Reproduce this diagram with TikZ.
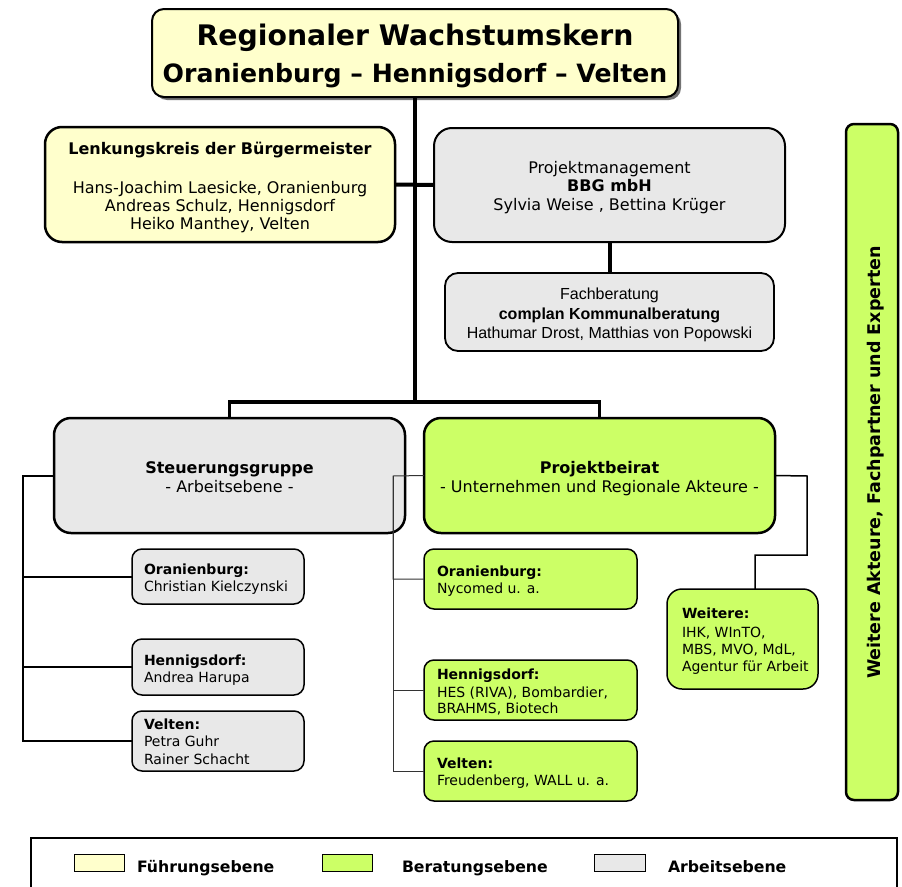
\documentclass[tikz,border=0pt]{standalone}
\usepackage{fontspec}
\setmainfont{DejaVu Sans}
\newfontfamily\arialf{Liberation Sans}
\definecolor{fy}{HTML}{FFFFCC}
\definecolor{fg}{HTML}{CCFF66}
\definecolor{fgr}{HTML}{E8E8E8}
\begin{document}
\begin{tikzpicture}[x=1pt,y=-1pt,
  box/.style={draw=black, inner sep=0pt, outer sep=0pt},
  bigbox/.style={box, line width=2.5pt, rounded corners=17pt},
  smallbox/.style={box, line width=1.5pt, rounded corners=10pt},
  txt/.style={inner sep=0pt, outer sep=0pt, anchor=base},
  ltxt/.style={inner sep=0pt, outer sep=0pt, anchor=base west},
  fA/.style={font=\fontsize{16}{18}\selectfont},
  fAb/.style={font=\fontsize{16}{18}\selectfont\bfseries},
  fS/.style={font=\fontsize{14}{17}\selectfont},
  fSb/.style={font=\fontsize{14}{17}\selectfont\bfseries},
  fF/.style={font=\arialf\fontsize{16}{18}\selectfont},
  fFb/.style={font=\arialf\fontsize{16}{18}\selectfont\bfseries},
  thick connector/.style={line width=4pt},
  mid connector/.style={line width=2pt},
  thin connector/.style={line width=1pt}]
\useasboundingbox (0,0) rectangle (902,886);

% ---- title with shadow
\fill[black!55, rounded corners=12pt] (155,12) rectangle (681,100);
\node[box, fill=fy, line width=2pt, rounded corners=12pt, minimum width=526pt, minimum height=88pt] (title) at (415,53) {};
\node[txt, font=\fontsize{28.3}{30}\selectfont\bfseries] (t1) at (415,45) {Regionaler Wachstumskern};
\node[txt, font=\fontsize{25.2}{28}\selectfont\bfseries] (t2) at (415,82) {Oranienburg – Hennigsdorf – Velten};

% ---- upper boxes
\node[bigbox, fill=fy, minimum width=350pt, minimum height=115pt] (lenk) at (220,184.5) {};
\node[box, fill=fgr, line width=2pt, rounded corners=18pt, minimum width=351pt, minimum height=114pt] (pm) at (609.5,185) {};
\node[box, fill=fgr, line width=1.8pt, rounded corners=13pt, minimum width=329pt, minimum height=78pt] (fach) at (609.5,312) {};

% ---- connectors (upper)
\coordinate (bar) at (415,402);
\draw[thick connector] (title.south) -- (bar);
\draw[thick connector] (lenk.east) -- (pm.west);
\draw[thick connector] (pm.south) -- (fach.north);

% ---- texts upper
\node[txt, fAb] (l1) at (220,154) {Lenkungskreis der Bürgermeister};
\node[txt, fA] (l2) at (220,193) {Hans-Joachim Laesicke, Oranienburg};
\node[txt, fA] (l3) at (220,211) {Andreas Schulz, Hennigsdorf};
\node[txt, fA] (l4) at (220,229) {Heiko Manthey, Velten};

\node[txt, fA] (p1) at (609.5,173) {Projektmanagement};
\node[txt, fAb] (p2) at (609.5,191) {BBG mbH};
\node[txt, fA] (p3) at (609.5,210) {Sylvia Weise , Bettina Krüger};

\node[txt, fF] (f1) at (609.5,299) {Fachberatung};
\node[txt, fFb] (f2) at (609.5,319) {complan Kommunalberatung};
\node[txt, fF] (f3) at (609.5,338) {Hathumar Drost, Matthias von Popowski};

% ---- right tall box
\node[box, fill=fg, line width=2.5pt, rounded corners=8pt, minimum width=52pt, minimum height=676pt] (weit) at (872,462) {};
\node[txt, rotate=90, font=\fontsize{17.5}{20}\selectfont\bfseries] (wt) at (880,462.5) {Weitere Akteure, Fachpartner und Experten};

% ---- middle boxes
\node[bigbox, fill=fgr, minimum width=351pt, minimum height=115pt] (steu) at (229.5,475.5) {};
\node[bigbox, fill=fg, minimum width=351pt, minimum height=115pt] (beir) at (599.5,475.5) {};
\draw[thick connector, line width=3.5pt] (steu.north) -- ++(0,-16) -| (beir.north);
\node[txt, fAb] (s1) at (229.5,473) {Steuerungsgruppe};
\node[txt, fA] (s2) at (229.5,492) {- Arbeitsebene -};
\node[txt, fAb] (b1) at (599.5,473) {Projektbeirat};
\node[txt, fA] (b2) at (599.5,492) {- Unternehmen und Regionale Akteure -};

% ---- left small boxes
\node[smallbox, fill=fgr, minimum width=172pt, minimum height=55pt] (so) at (218,576.5) {};
\node[smallbox, fill=fgr, minimum width=172pt, minimum height=56pt] (sh) at (218,667) {};
\node[smallbox, fill=fgr, minimum width=172pt, minimum height=60pt] (sv) at (218,741) {};
\node[ltxt, fSb] (so1) at (144,574) {Oranienburg:};
\node[ltxt, fS] (so2) at (144,591) {Christian Kielczynski};
\node[ltxt, fSb] (sh1) at (144,665) {Hennigsdorf:};
\node[ltxt, fS] (sh2) at (144,682) {Andrea Harupa};
\node[ltxt, fSb] (sv1) at (144,729) {Velten:};
\node[ltxt, fS] (sv2) at (144,746) {Petra Guhr};
\node[ltxt, fS] (sv3) at (144,764) {Rainer Schacht};

% ---- right small boxes
\node[smallbox, fill=fg, minimum width=213pt, minimum height=60pt] (bo) at (530.5,579) {};
\node[smallbox, fill=fg, minimum width=213pt, minimum height=60pt] (bh) at (530.5,690) {};
\node[smallbox, fill=fg, minimum width=213pt, minimum height=60pt] (bv) at (530.5,771) {};
\node[ltxt, fSb] (bo1) at (437,576) {Oranienburg:};
\node[ltxt, fS] (bo2) at (437,593) {Nycomed u. a.};
\node[ltxt, fSb] (bh1) at (437,679) {Hennigsdorf:};
\node[ltxt, fS] (bh2) at (437,697) {HES (RIVA), Bombardier,};
\node[ltxt, fS] (bh3) at (437,713) {BRAHMS, Biotech};
\node[ltxt, fSb] (bv1) at (437,768) {Velten:};
\node[ltxt, fS] (bv2) at (437,785) {Freudenberg, WALL u. a.};

% ---- Weitere box
\node[box, fill=fg, line width=1.5pt, rounded corners=15pt, minimum width=151pt, minimum height=100pt] (we) at (742.5,639) {};
\node[ltxt, fSb] (we1) at (682,618) {Weitere:};
\node[ltxt, fS] (we2) at (682,637) {IHK, WInTO,};
\node[ltxt, fS] (we3) at (682,654) {MBS, MVO, MdL,};
\node[ltxt, fS] (we4) at (682,671) {Agentur für Arbeit};

% ---- side connectors
\coordinate (sl) at (23,475.5);
\draw[mid connector] (steu.west) -- (sl) |- (so.west);
\draw[mid connector] (sl) |- (sh.west);
\draw[mid connector] (sl) |- (sv.west);
\coordinate (bl) at (393,476);
\draw[thin connector, black!80] (beir.west) -- (bl) |- (bo.west);
\draw[thin connector, black!80] (bl) |- (bh.west);
\draw[thin connector, black!80] (bl) |- (bv.west);
\coordinate (wr) at (807,476);
\coordinate (wk) at (755,555);
\draw[line width=1.5pt] (beir.east) -- (wr) |- (wk) -- (wk |- we.north);

% ---- legend
\node[box, line width=1.5pt, minimum width=866pt, minimum height=70pt, anchor=north west] (leg) at (31,838) {};
\node[box, fill=fy, line width=1pt, minimum width=50pt, minimum height=17pt, anchor=north west] (sw1) at (74,854) {};
\node[box, fill=fg, line width=1pt, minimum width=50pt, minimum height=17pt, anchor=north west] (sw2) at (322,854) {};
\node[box, fill=fgr, line width=1pt, minimum width=51pt, minimum height=17pt, anchor=north west] (sw3) at (594,854) {};
\node[ltxt, font=\fontsize{15.7}{18}\selectfont\bfseries] (lg1) at (137,872) {Führungsebene};
\node[ltxt, font=\fontsize{15.7}{18}\selectfont\bfseries] (lg2) at (402,872) {Beratungsebene};
\node[ltxt, font=\fontsize{15.7}{18}\selectfont\bfseries] (lg3) at (668,872) {Arbeitsebene};
\end{tikzpicture}
\end{document}
